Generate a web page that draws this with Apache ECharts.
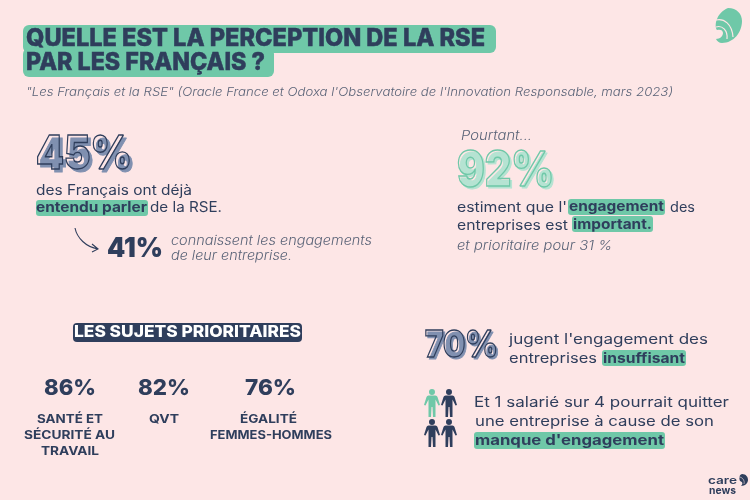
<!DOCTYPE html>
<html>
<head>
<meta charset="utf-8">
<style>
  html, body { margin: 0; padding: 0; background: #fde6e6; }
  #chart { width: 750px; height: 500px; }
</style>
<script src="https://cdn.jsdelivr.net/npm/echarts@6/dist/echarts.min.js"></script>
</head>
<body>
<div id="chart"></div>
<script>
// data
var titleLines = ["QUELLE EST LA PERCEPTION DE LA RSE", "PAR LES FRANÇAIS ?"];
var sourceText = "\"Les Français et la RSE\" (Oracle France et Odoxa l'Observatoire de l'Innovation Responsable, mars 2023)";
var mainValues = [45, 92, 70];
var secondValue = 41;
var secondText = ["connaissent les engagements", "de leur entreprise."];
var sujetsTitle = "LES SUJETS PRIORITAIRES";
var sujetsValues = [86, 82, 76];
var sujetsLabels = [
  ["SANTÉ ET", "SÉCURITÉ AU", "TRAVAIL"],
  ["QVT"],
  ["ÉGALITÉ", "FEMMES-HOMMES"]
];
var peopleColored = [true, false, false, false];

var DARK = "#2f3e5c", GREEN = "#6fc8a8", BG = "#fde6e6", SOFT = "#5b6478";
var BODY = "Inter";

var ctx = document.createElement("canvas").getContext("2d");
var els = [];
var shapes = [];

// texte cale sur une largeur donnee
function txt(str, x, y, width, size, weight, fill, extra) {
  extra = extra || {};
  var italic = extra.italic ? "italic" : "normal";
  ctx.font = italic + " " + weight + " " + size + "px " + BODY;
  var el = {
    type: "text",
    x: x,
    y: y + 2,
    scaleX: width / ctx.measureText(str).width,
    z: extra.z || 10,
    style: {
      text: str,
      fontFamily: BODY,
      fontSize: size,
      fontWeight: weight,
      fontStyle: italic,
      fill: fill,
      textAlign: "left",
      textVerticalAlign: "middle"
    }
  };
  if (extra.stroke) {
    el.style.stroke = extra.stroke;
    el.style.lineWidth = extra.lineWidth || 1.5;
  }
  els.push(el);
}

function box(x, y, w, h, r, fill) {
  els.push({ type: "rect", z: 5, shape: { x: x, y: y, width: w, height: h, r: r }, style: { fill: fill } });
}

// les graphic n'ont pas de type path : passe par une serie custom
function path(d, style, rect) {
  var shape = { pathData: d };
  if (rect) {
    shape.x = rect[0];
    shape.y = rect[1];
    shape.width = rect[2];
    shape.height = rect[3];
    shape.layout = "cover";
  }
  shapes.push({ type: "path", shape: shape, style: style });
}

// chiffre en contour avec ombre decalee
function bigPct(val, x, y, width, size, line, shadow, off) {
  var s = val + "%";
  txt(s, x + off, y + off, width, size, 900, shadow, { z: 8, stroke: shadow, lineWidth: 1 });
  txt(s, x, y, width, size, 900, "rgba(0,0,0,0)", { z: 9, stroke: line, lineWidth: 1.4 });
}

// titre
box(23, 25, 473, 28, 6, GREEN);
box(23, 48, 251, 29, 6, GREEN);
txt(titleLines[0], 26, 37, 459, 24, 800, DARK, { stroke: DARK, lineWidth: 0.5 });
txt(titleLines[1], 26, 61, 239, 24, 800, DARK, { stroke: DARK, lineWidth: 0.5 });
txt(sourceText, 26, 90, 647, 12, 300, SOFT, { italic: true });

// bloc 45%
bigPct(mainValues[0], 36, 153, 96, 47, DARK, "#8090b0", 3);
txt("des Français ont déjà", 36, 189, 156, 14, 400, DARK);
box(36, 200, 112, 16, 3, GREEN);
txt("entendu parler", 36, 206, 111, 14, 700, DARK);
txt("de la RSE.", 150, 206, 72, 14, 400, DARK);
path("M75 228 C77 238 86 247 98 249 M92 244 L98 249 L92 252", { fill: "none", stroke: DARK, lineWidth: 1.1 });
txt(secondValue + "%", 107, 247, 56, 27, 900, DARK);
txt(secondText[0], 171, 239, 201, 13, 300, SOFT, { italic: true });
txt(secondText[1], 171, 254, 121, 13, 300, SOFT, { italic: true });

// bloc 92%
txt("Pourtant...", 461, 134, 71, 13, 300, SOFT, { italic: true });
bigPct(mainValues[1], 457, 170, 97, 48, GREEN, "#b5e3d2", 2);
txt("estiment que l'", 457, 206, 110, 14, 400, DARK);
box(568, 199, 97, 16, 3, GREEN);
txt("engagement", 569, 205, 95, 14, 700, DARK);
txt("des", 670, 206, 25, 14, 400, DARK);
txt("entreprises est", 457, 224, 111, 14, 400, DARK);
box(572, 216, 81, 16, 3, GREEN);
txt("important.", 573, 223, 79, 14, 700, DARK);
txt("et prioritaire pour 31 %", 457, 244, 155, 13, 300, SOFT, { italic: true });

// sujets prioritaires
box(73, 323, 229, 19, 4, DARK);
txt(sujetsTitle, 74, 330, 227, 16, 800, "#ffffff");
var sujetsX = [44, 138, 245];
var sujetsW = [52, 52, 51];
sujetsValues.forEach(function (v, i) {
  txt(v + "%", sujetsX[i], 386, sujetsW[i], 22, 800, DARK);
});
var labelPos = [
  [[37, 66], [24, 91], [41, 58]],
  [[149, 30]],
  [[240, 57], [210, 122]]
];
sujetsLabels.forEach(function (lines, i) {
  lines.forEach(function (line, j) {
    txt(line, labelPos[i][j][0], 417 + j * 16, labelPos[i][j][1], 12, 700, DARK);
  });
});

// bloc 70%
bigPct(mainValues[2], 425, 344, 73, 37, DARK, "#8090b0", 2);
txt("jugent l'engagement des", 509, 338, 199, 14, 400, DARK);
txt("entreprises", 509, 357, 88, 14, 400, DARK);
box(602, 350, 84, 16, 3, GREEN);
txt("insuffisant", 603, 357, 82, 14, 700, DARK);

// personnes
var personPath = "M15 0 A6 6 0 1 1 14.99 0 Z M8 13 H22 Q25 13 26 16 L31 32 L28 33 L22 21 V56 H17 L16 36 H14 L13 56 H8 V21 L2 33 L-1 32 L4 16 Q5 13 8 13 Z";
var personX = [424, 441, 424, 441];
var personY = [389, 389, 419, 419];
peopleColored.forEach(function (c, i) {
  path(personPath, { fill: c ? GREEN : DARK }, [personX[i], personY[i], 16, 28]);
});
txt("Et 1 salarié sur 4 pourrait quitter", 474, 401, 255, 14, 400, DARK);
txt("une entreprise à cause de son", 475, 420, 239, 14, 400, DARK);
box(474, 432, 191, 17, 3, GREEN);
txt("manque d'engagement", 475, 439, 189, 14, 700, DARK);

// logo haut droite
path("M728 8 C737 8 742 14 742 21 C742 32 734 43 722 43 C719 43 717 41 716 39 C720 39 723 36 723 33 C723 30 720 29 717 30 C714 26 716 13 728 8 Z", { fill: GREEN });
path("M716 20 C724 18 732 24 733 37", { fill: "none", stroke: BG, lineWidth: 1.2 });
path("M716 27 C722 25 728 30 727 39", { fill: "none", stroke: BG, lineWidth: 1.2 });

// logo bas droite
txt("care", 708, 479, 29, 11, 600, DARK);
txt("news", 709, 489, 27, 11, 700, DARK);
path("M742 474 C746 474 748 477 748 480 C748 483 745 486 741 486 C743 484 743 482 740 481 C739 478 739 475 742 474 Z", { fill: DARK });
path("M739 477 C742 477 745 480 744 484", { fill: "none", stroke: BG, lineWidth: 0.6 });

var myChart = echarts.init(document.getElementById("chart"));
myChart.setOption({
  backgroundColor: BG,
  animation: false,
  graphic: { elements: els },
  series: [{
    type: "custom",
    coordinateSystem: "none",
    silent: true,
    data: [0],
    renderItem: function () {
      return { type: "group", children: shapes };
    }
  }]
});
</script>
</body>
</html>
